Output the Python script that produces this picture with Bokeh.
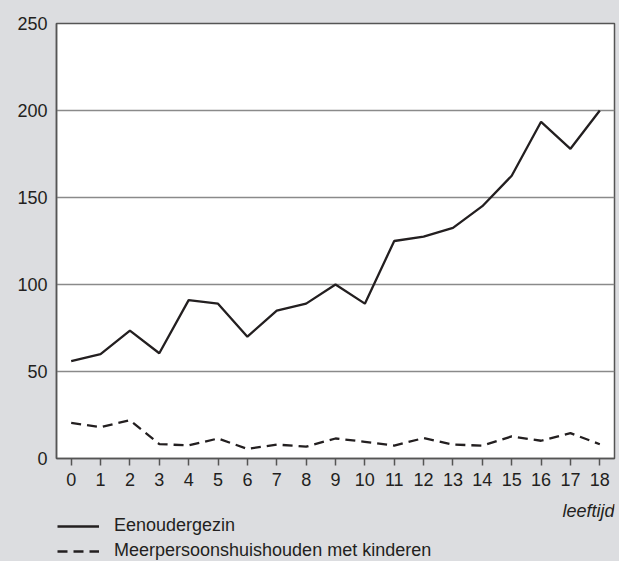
from bokeh.plotting import figure
from bokeh.layouts import column
from bokeh.models import FixedTicker, Label, Legend, LegendItem, Range1d
from bokeh.embed import file_html
from bokeh.resources import INLINE

ages = list(range(0, 19))
tick_labels = [str(a) for a in ages]
eenouder = [56, 60, 73.5, 60.5, 91, 89, 70, 85, 89, 100, 89, 125, 127.5, 132.5, 145, 162.5, 193.5, 178, 200]
meerpersoons = [20.5, 18, 22, 8.3, 7.5, 11.5, 5.5, 8, 6.8, 11.5, 9.6, 7.4, 11.7, 8, 7.4, 12.7, 10.2, 14.6, 8.2]
y_ticks = [0, 50, 100, 150, 200, 250]
series_names = ["Eenoudergezin", "Meerpersoonshuishouden met kinderen"]
x_title = "leeftijd"

BG = "#dcdde0"
INK = "#231f20"
FONT = "Liberation Sans"
FS = "18px"

p = figure(width=619, height=494, output_backend="svg", toolbar_location=None,
           x_range=Range1d(-0.5, 18.5), y_range=Range1d(0, 250),
           min_border_left=56, min_border_top=23, min_border_right=5, min_border_bottom=36)
p.background_fill_color = "white"
p.border_fill_color = BG
p.outline_line_color = "#555555"
p.outline_line_width = 1.5

p.xgrid.visible = False
p.ygrid.ticker = FixedTicker(ticks=[50, 100, 150, 200])
p.ygrid.grid_line_color = "#8a8a8a"
p.ygrid.grid_line_width = 1.5

p.xaxis.ticker = FixedTicker(ticks=ages)
p.xaxis.major_label_overrides = {a: s for a, s in zip(ages, tick_labels)}
p.yaxis.ticker = FixedTicker(ticks=y_ticks)
for ax in (p.xaxis, p.yaxis):
    ax.axis_line_color = "#555555"
    ax.axis_line_width = 1.5
    ax.minor_tick_line_color = None
    ax.major_label_text_font = FONT
    ax.major_label_text_font_size = FS
    ax.major_label_text_color = INK
p.xaxis.major_tick_line_color = "#555555"
p.xaxis.major_tick_line_width = 1.5
p.xaxis.major_tick_in = 0
p.xaxis.major_tick_out = 7
p.xaxis.major_label_standoff = 7
p.yaxis.major_tick_line_color = None
p.yaxis.major_tick_in = 0
p.yaxis.major_tick_out = 0
p.yaxis.major_label_standoff = 9

p.line(ages, eenouder, line_color=INK, line_width=2.3)
p.line(ages, meerpersoons, line_color=INK, line_width=2.3, line_dash="10 6")

# strip below the chart: axis title and legend
p2 = figure(width=619, height=67, output_backend="svg", toolbar_location=None,
            x_range=Range1d(-0.5, 18.5), y_range=Range1d(0, 67),
            min_border_left=56, min_border_right=5, min_border_top=0, min_border_bottom=0)
p2.axis.visible = False
p2.grid.visible = False
p2.outline_line_color = None
p2.background_fill_color = BG
p2.border_fill_color = BG
l1 = p2.line(ages, eenouder, line_color=INK, line_width=2.3, visible=False)
l2 = p2.line(ages, meerpersoons, line_color=INK, line_width=2.3, line_dash="10 6", visible=False)

p2.add_layout(Label(x=18.5, y=51, text=x_title, text_align="right", text_baseline="middle",
                    text_font=FONT, text_font_size=FS, text_font_style="italic", text_color=INK))

legend = Legend(items=[LegendItem(label=series_names[0], renderers=[l1]),
                       LegendItem(label=series_names[1], renderers=[l2])],
                location=(1, 0), orientation="vertical",
                glyph_width=42, glyph_height=20, label_height=20, spacing=4,
                label_standoff=15, padding=0, margin=0,
                label_text_font=FONT, label_text_font_size=FS, label_text_color=INK,
                background_fill_color=None, border_line_color=None,
                inactive_fill_alpha=0)
p2.add_layout(legend)

layout = column(p, p2, spacing=0, styles={"background-color": BG})
open("out.html", "w").write(file_html(layout, INLINE))
